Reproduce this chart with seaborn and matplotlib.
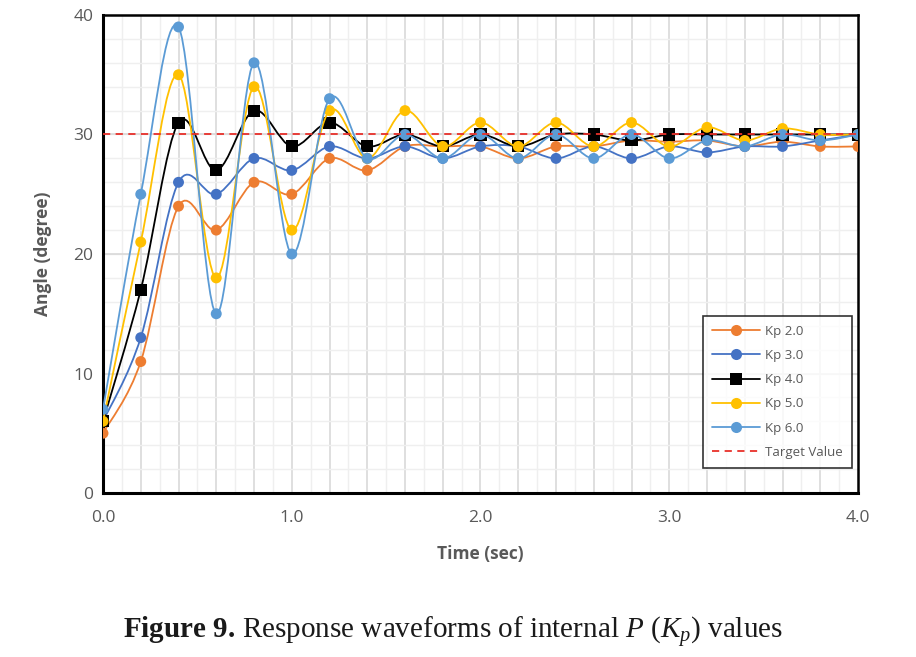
import numpy as np
import pandas as pd
import matplotlib
matplotlib.use("Agg")
import matplotlib.pyplot as plt
from matplotlib.path import Path
from matplotlib.patches import PathPatch
from matplotlib.lines import Line2D
from matplotlib.ticker import MultipleLocator, FuncFormatter
import seaborn as sns

# valores
tempo = [0.0, 0.2, 0.4, 0.6, 0.8, 1.0, 1.2, 1.4, 1.6, 1.8, 2.0,
         2.2, 2.4, 2.6, 2.8, 3.0, 3.2, 3.4, 3.6, 3.8, 4.0]
kp_2 = [5, 11, 24, 22, 26, 25, 28, 27, 29, 29, 29,
        28, 29, 29, 29.5, 29.4, 29.5, 29, 29.4, 29, 29]
kp_3 = [6, 13, 26, 25, 28, 27, 29, 28, 29, 28, 29,
        29, 28, 29, 28, 29, 28.5, 29, 29, 29.5, 30]
kp_4 = [6, 17, 31, 27, 32, 29, 31, 29, 30, 29, 30,
        29, 30, 30, 29.5, 30, 30, 30, 30, 30, 30]
kp_5 = [6, 21, 35, 18, 34, 22, 32, 28, 32, 29, 31,
        29, 31, 29, 31, 29, 30.6, 29.5, 30.5, 30, 30]
kp_6 = [7, 25, 39, 15, 36, 20, 33, 28, 30, 28, 30,
        28, 30, 28, 30, 28, 29.5, 29, 30, 29.5, 30]
valor_alvo = 30
nomes = ['Kp 2.0', 'Kp 3.0', 'Kp 4.0', 'Kp 5.0', 'Kp 6.0']
cores = ['#ED7D31', '#4472C4', '#000000', '#FFC000', '#5B9BD5']
marcadores = ['o', 'o', 's', 'o', 'o']

series = [kp_2, kp_3, kp_4, kp_5, kp_6]
df = pd.DataFrame({
    'Tempo': np.tile(tempo, len(series)),
    'Angulo': np.concatenate(series),
    'Serie': np.repeat(nomes, len(tempo)),
})


def caminho_suave(x, y):
    """Curva suavizada (tipo Excel) como Path de Bezier pelos pontos."""
    p = np.column_stack([x, y]).astype(float)
    ext = np.vstack([p[0], p, p[-1]])
    verts = [p[0]]
    codes = [Path.MOVETO]
    for i in range(len(p) - 1):
        p0, p1, p2, p3 = ext[i], ext[i + 1], ext[i + 2], ext[i + 3]
        c1 = p1 + (p2 - p0) / 6.0
        c2 = p2 - (p3 - p1) / 6.0
        verts += [c1, c2, p2]
        codes += [Path.CURVE4] * 3
    return Path(verts, codes)


sns.set_style('white')
plt.rcParams['font.family'] = ['Open Sans', 'DejaVu Sans']
plt.rcParams['mathtext.fontset'] = 'custom'
plt.rcParams['mathtext.rm'] = 'Liberation Serif'
plt.rcParams['mathtext.it'] = 'Liberation Serif:italic'
plt.rcParams['mathtext.bf'] = 'Liberation Serif:bold'

fig = plt.figure(figsize=(9.16, 6.57), dpi=100)
ax = fig.add_axes([103 / 916, 1 - 493 / 657, 755 / 916, 478 / 657])

# grade
for xv in np.arange(0.1, 4.0, 0.2):
    ax.axvline(xv, color='#EFEFEF', lw=1.0, zorder=0)
for xv in np.arange(0.2, 4.0, 0.2):
    ax.axvline(xv, color='#D9D9D9', lw=1.2, zorder=0)
for yv in np.arange(2, 40, 2):
    ax.axhline(yv, color='#EFEFEF', lw=1.0, zorder=0)
for yv in [10, 20, 30]:
    ax.axhline(yv, color='#D9D9D9', lw=1.2, zorder=0)

for i, nome in enumerate(nomes):
    sub = df[df['Serie'] == nome]
    ax.add_patch(PathPatch(caminho_suave(sub['Tempo'], sub['Angulo']),
                           facecolor='none', edgecolor=cores[i], lw=1.3,
                           zorder=2 + 2 * i))
    sns.scatterplot(data=sub, x='Tempo', y='Angulo', ax=ax, color=cores[i],
                    marker=marcadores[i], s=62 if marcadores[i] == 'o' else 75,
                    edgecolor='none', zorder=3 + 2 * i, legend=False)

ax.axhline(valor_alvo, color='#E8302A', lw=1.3, ls=(0, (4, 3)), zorder=20)

ax.set_xlim(0, 4.0)
ax.set_ylim(0, 40)
ax.xaxis.set_major_locator(MultipleLocator(0.1))
ax.yaxis.set_major_locator(MultipleLocator(2))
ax.xaxis.set_major_formatter(FuncFormatter(
    lambda v, p: f'{v:.1f}' if abs(v - round(v)) < 1e-6 else ''))
ax.yaxis.set_major_formatter(FuncFormatter(
    lambda v, p: f'{v:.0f}' if abs(v % 10) < 1e-6 or abs(v % 10 - 10) < 1e-6 else ''))
ax.tick_params(axis='both', direction='in', length=5, width=1.5,
               colors='black', labelcolor='#595959', labelsize=12.5)
ax.tick_params(axis='x', pad=12)
ax.tick_params(axis='y', pad=7)
for s in ax.spines.values():
    s.set_color('black')
    s.set_linewidth(1.8)
ax.spines['left'].set_linewidth(2.2)
ax.spines['bottom'].set_linewidth(2.2)

ax.set_xlabel('Time (sec)', fontsize=12.5, fontweight='bold', color='#595959', labelpad=14)
ax.set_ylabel('Angle (degree)', fontsize=12.5, fontweight='bold', color='#595959', labelpad=15)

handles = [Line2D([0], [0], color=cores[i], lw=1.3, marker=marcadores[i],
                  markersize=8 if marcadores[i] == 'o' else 8.5, markeredgewidth=0)
           for i in range(len(nomes))]
handles.append(Line2D([0], [0], color='#E8302A', lw=1.3, ls=(0, (4, 3))))
leg = ax.legend(handles, nomes + ['Target Value'], loc='lower right',
                bbox_to_anchor=(0.992, 0.052), frameon=True, fancybox=False,
                edgecolor='black', fontsize=9.5, labelcolor='#595959',
                handlelength=3.6, labelspacing=0.85, borderpad=0.7,
                handletextpad=0.4, borderaxespad=0)
leg.get_frame().set_linewidth(1.2)
leg.set_zorder(30)

fig.text(0.495, 1 - 633 / 657,
         r'$\mathbf{Figure\ 9.}\,$Response waveforms of internal $P$ ($K_p$) values',
         ha='center', va='center', fontsize=21, family='Liberation Serif', color='#1A1A1A')

fig.savefig('out.png', dpi=100)
